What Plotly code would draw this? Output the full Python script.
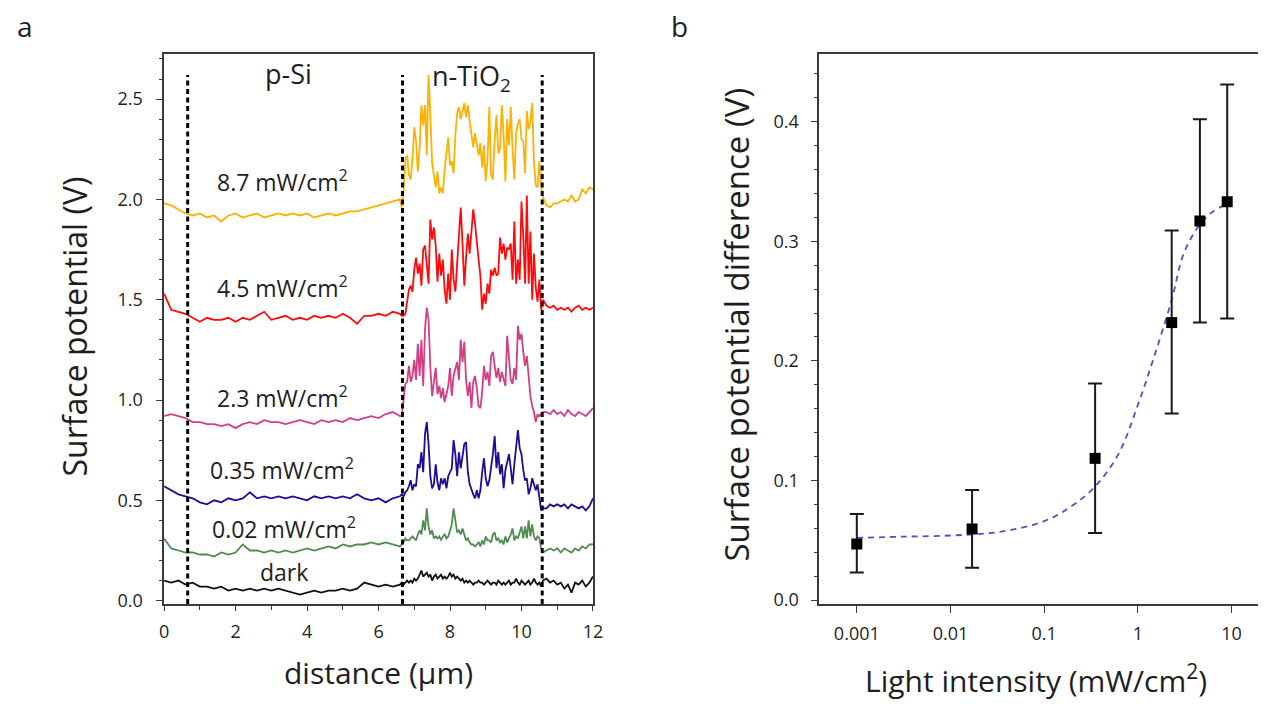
import plotly.graph_objects as go

# ---------------- panel a: surface potential line profiles ----------------
# scan positions along the profile (µm): p-Si side, n-TiO2 stripe, p-Si side
DIST_LEFT = [0.0, 0.2, 0.4, 0.6, 0.8, 1.0, 1.2, 1.4, 1.6, 1.8, 2.0, 2.2, 2.4, 2.6, 2.8, 3.0, 3.2,
             3.4, 3.6, 3.8, 4.0, 4.2, 4.4, 4.6, 4.8, 5.0, 5.2, 5.4, 5.6, 5.8, 6.0, 6.2, 6.4, 6.6]
DIST_MID = [6.65, 6.7, 6.75, 6.8, 6.85, 6.9, 6.95, 7.0, 7.05, 7.1, 7.15, 7.2, 7.25, 7.3, 7.35, 7.4,
            7.45, 7.5, 7.55, 7.6, 7.65, 7.7, 7.75, 7.8, 7.85, 7.9, 7.95, 8.0, 8.05, 8.1, 8.15, 8.2,
            8.25, 8.3, 8.35, 8.4, 8.45, 8.5, 8.55, 8.6, 8.65, 8.7, 8.75, 8.8, 8.85, 8.9, 8.95, 9.0,
            9.05, 9.1, 9.15, 9.2, 9.25, 9.3, 9.35, 9.4, 9.45, 9.5, 9.55, 9.6, 9.65, 9.7, 9.75, 9.8,
            9.85, 9.9, 9.95, 10.0, 10.05, 10.1, 10.15, 10.2, 10.25, 10.3, 10.35, 10.4, 10.45, 10.5,
            10.55, 10.6]
DIST_RIGHT = [10.7, 10.8, 10.9, 11.0, 11.1, 11.2, 11.3, 11.4, 11.5, 11.6, 11.7, 11.8, 11.9, 12.0]
DISTANCE = DIST_LEFT + DIST_MID + DIST_RIGHT

# surface potential (V) for each illumination level
SP_8_7 = [
    1.98, 1.97, 1.95, 1.93, 1.92, 1.93, 1.91, 1.92, 1.89, 1.92, 1.93, 1.91, 1.92, 1.93, 1.91, 1.92, 1.93,
    1.92, 1.93, 1.92, 1.93, 1.91, 1.92, 1.93, 1.92, 1.93, 1.94, 1.94, 1.95, 1.96, 1.97, 1.98, 1.99, 2.00,
    1.96,
    2.04, 2.20, 2.22, 2.12, 2.10, 2.20, 2.36, 2.29, 2.14, 2.26,
    2.47, 2.37, 2.47, 2.22, 2.62, 2.42, 2.18, 2.12, 2.06, 2.14,
    2.03, 2.06, 2.03, 2.15, 2.24, 2.31, 2.17, 2.19, 2.13, 2.32,
    2.43, 2.46, 2.40, 2.45, 2.48, 2.41, 2.47, 2.39, 2.33, 2.26,
    2.33, 2.27, 2.22, 2.28, 2.16, 2.27, 2.09, 2.20, 2.46, 2.12,
    2.10, 2.30, 2.42, 2.23, 2.25, 2.47, 2.32, 2.09, 2.40, 2.27,
    2.46, 2.25, 2.10, 2.33, 2.38, 2.40, 2.30, 2.29, 2.13, 2.44,
    2.35, 2.39, 2.48, 2.18, 2.07, 2.06, 2.19, 2.07, 2.01,
    1.97, 1.96, 1.98, 1.98, 1.99, 2.00, 1.99, 2.02, 1.99, 2.00, 2.05, 2.03, 2.06, 2.05]

SP_4_5 = [
    1.53, 1.45, 1.44, 1.43, 1.41, 1.39, 1.41, 1.40, 1.40, 1.41, 1.39, 1.41, 1.40, 1.42, 1.44, 1.40, 1.41,
    1.42, 1.40, 1.41, 1.40, 1.42, 1.41, 1.42, 1.41, 1.43, 1.41, 1.38, 1.42, 1.42, 1.43, 1.42, 1.44, 1.43,
    1.42,
    1.42, 1.43, 1.50, 1.55, 1.57, 1.54, 1.65, 1.71, 1.63, 1.68,
    1.57, 1.75, 1.77, 1.68, 1.58, 1.90, 1.80, 1.86, 1.77, 1.59,
    1.73, 1.62, 1.70, 1.55, 1.48, 1.63, 1.50, 1.75, 1.60, 1.54,
    1.69, 1.79, 1.96, 1.78, 1.57, 1.71, 1.83, 1.73, 1.85, 1.95,
    1.88, 1.77, 1.70, 1.62, 1.45, 1.53, 1.48, 1.58, 1.53, 1.65,
    1.62, 1.66, 1.62, 1.63, 1.81, 1.73, 1.78, 1.70, 1.76, 1.75,
    1.78, 1.60, 1.89, 1.58, 1.70, 1.60, 1.99, 1.82, 1.58, 2.02,
    1.58, 1.84, 1.50, 1.73, 1.56, 1.49, 1.60, 1.45, 1.50,
    1.47, 1.46, 1.47, 1.45, 1.46, 1.45, 1.46, 1.44, 1.46, 1.47, 1.45, 1.46, 1.45, 1.46]

SP_2_3 = [
    0.92, 0.93, 0.92, 0.91, 0.89, 0.89, 0.88, 0.88, 0.87, 0.88, 0.86, 0.88, 0.89, 0.88, 0.90, 0.89, 0.89,
    0.88, 0.89, 0.90, 0.89, 0.88, 0.90, 0.89, 0.90, 0.89, 0.91, 0.90, 0.91, 0.92, 0.91, 0.93, 0.94, 0.92,
    0.92,
    1.02, 1.08, 1.09, 1.17, 1.09, 1.12, 1.20, 1.10, 1.28, 1.12,
    1.30, 1.07, 1.35, 1.46, 1.40, 1.16, 1.02, 1.08, 1.16, 1.03,
    1.07, 1.01, 1.06, 0.99, 1.04, 1.07, 1.16, 1.02, 1.12, 1.15,
    1.19, 1.10, 1.30, 1.19, 1.29, 1.10, 1.02, 1.09, 0.96, 1.09,
    1.12, 1.06, 0.97, 0.96, 1.04, 1.17, 1.10, 1.14, 1.07, 1.22,
    1.24, 1.17, 1.11, 1.16, 1.09, 1.14, 1.10, 1.07, 1.32, 1.20,
    1.10, 1.08, 1.16, 1.10, 1.37, 1.30, 1.33, 1.24, 1.17, 1.22,
    1.13, 1.02, 0.97, 0.94, 0.89, 0.93, 0.92, 0.93, 0.94,
    0.94, 0.93, 0.95, 0.93, 0.94, 0.92, 0.95, 0.93, 0.92, 0.94, 0.93, 0.92, 0.94, 0.96]

SP_0_35 = [
    0.57, 0.55, 0.53, 0.52, 0.51, 0.49, 0.48, 0.50, 0.49, 0.51, 0.50, 0.51, 0.54, 0.51, 0.52, 0.51, 0.52,
    0.51, 0.52, 0.51, 0.50, 0.52, 0.51, 0.52, 0.51, 0.52, 0.51, 0.53, 0.51, 0.50, 0.51, 0.49, 0.51, 0.52,
    0.53,
    0.52, 0.54, 0.55, 0.57, 0.60, 0.55, 0.58, 0.57, 0.68, 0.66,
    0.74, 0.64, 0.83, 0.89, 0.78, 0.62, 0.56, 0.58, 0.68, 0.59,
    0.55, 0.61, 0.58, 0.61, 0.56, 0.62, 0.64, 0.66, 0.80, 0.73,
    0.62, 0.74, 0.66, 0.71, 0.78, 0.79, 0.64, 0.58, 0.55, 0.53,
    0.51, 0.55, 0.51, 0.55, 0.64, 0.71, 0.61, 0.57, 0.60, 0.66,
    0.73, 0.82, 0.66, 0.74, 0.63, 0.68, 0.56, 0.65, 0.69, 0.73,
    0.66, 0.58, 0.68, 0.77, 0.85, 0.76, 0.73, 0.65, 0.60, 0.61,
    0.53, 0.56, 0.61, 0.58, 0.55, 0.58, 0.51, 0.45, 0.46,
    0.46, 0.48, 0.47, 0.48, 0.47, 0.48, 0.46, 0.48, 0.47, 0.46, 0.47, 0.45, 0.47, 0.51]

SP_0_02 = [
    0.31, 0.26, 0.25, 0.24, 0.24, 0.23, 0.23, 0.22, 0.24, 0.23, 0.24, 0.28, 0.25, 0.25, 0.24, 0.25, 0.24,
    0.25, 0.24, 0.25, 0.26, 0.25, 0.26, 0.27, 0.26, 0.28, 0.27, 0.28, 0.28, 0.29, 0.28, 0.29, 0.28, 0.27,
    0.28,
    0.29, 0.31, 0.30, 0.30, 0.31, 0.32, 0.31, 0.30, 0.33, 0.35,
    0.33, 0.40, 0.35, 0.46, 0.37, 0.33, 0.35, 0.31, 0.32, 0.31,
    0.32, 0.30, 0.32, 0.33, 0.31, 0.32, 0.35, 0.38, 0.46, 0.40,
    0.34, 0.35, 0.33, 0.36, 0.33, 0.30, 0.31, 0.29, 0.28, 0.28,
    0.27, 0.28, 0.29, 0.27, 0.30, 0.28, 0.32, 0.30, 0.30, 0.29,
    0.33, 0.34, 0.30, 0.31, 0.29, 0.30, 0.28, 0.32, 0.29, 0.31,
    0.33, 0.36, 0.30, 0.32, 0.31, 0.34, 0.37, 0.31, 0.37, 0.31,
    0.40, 0.32, 0.38, 0.32, 0.30, 0.32, 0.31, 0.26, 0.24,
    0.25, 0.26, 0.25, 0.26, 0.24, 0.26, 0.25, 0.24, 0.26, 0.25, 0.27, 0.26, 0.28, 0.28]

SP_DARK = [
    0.10, 0.09, 0.10, 0.08, 0.09, 0.07, 0.07, 0.06, 0.07, 0.05, 0.06, 0.05, 0.06, 0.05, 0.06, 0.05, 0.06,
    0.05, 0.04, 0.03, 0.04, 0.05, 0.04, 0.05, 0.05, 0.06, 0.05, 0.06, 0.09, 0.08, 0.07, 0.08, 0.07, 0.08,
    0.09,
    0.08, 0.09, 0.10, 0.09, 0.10, 0.09, 0.11, 0.10, 0.11, 0.13,
    0.15, 0.12, 0.13, 0.14, 0.12, 0.13, 0.10, 0.12, 0.13, 0.11,
    0.12, 0.13, 0.11, 0.12, 0.11, 0.12, 0.14, 0.12, 0.13, 0.11,
    0.12, 0.11, 0.10, 0.11, 0.09, 0.10, 0.09, 0.10, 0.09, 0.08,
    0.09, 0.09, 0.10, 0.09, 0.09, 0.08, 0.09, 0.10, 0.09, 0.08,
    0.09, 0.09, 0.08, 0.10, 0.09, 0.08, 0.09, 0.08, 0.09, 0.10,
    0.08, 0.09, 0.09, 0.11, 0.09, 0.08, 0.10, 0.09, 0.08, 0.09,
    0.10, 0.08, 0.09, 0.11, 0.09, 0.08, 0.09, 0.07, 0.10,
    0.11, 0.09, 0.10, 0.08, 0.09, 0.06, 0.08, 0.04, 0.09, 0.08, 0.10, 0.07, 0.09, 0.12]

PROFILE_LABELS = ["8.7 mW/cm<sup>2</sup>", "4.5 mW/cm<sup>2</sup>", "2.3 mW/cm<sup>2</sup>",
                  "0.35 mW/cm<sup>2</sup>", "0.02 mW/cm<sup>2</sup>", "dark"]
PROFILES = [SP_8_7, SP_4_5, SP_2_3, SP_0_35, SP_0_02, SP_DARK]
PROFILE_COLORS = ["#FFB000", "#FF0A0A", "#D23F84", "#1C0C9A", "#4F8C52", "#111111"]
# where each label sits (distance µm, potential V)
LABEL_POS = [(3.30, 2.09), (3.30, 1.565), (3.30, 1.015), (3.30, 0.655), (3.35, 0.36), (3.35, 0.145)]

INTERFACES = [0.66, 6.67, 10.58]  # p-Si / n-TiO2 boundaries (µm)

for prof in PROFILES:
    assert len(prof) == len(DISTANCE), len(prof)

# ---------------- panel b: potential difference vs light intensity ----------------
INTENSITY = [0.001, 0.017, 0.35, 2.3, 4.6, 9.0]
SPD = [0.047, 0.0595, 0.1185, 0.232, 0.317, 0.333]
SPD_UPPER = [0.072, 0.092, 0.181, 0.309, 0.402, 0.431]
SPD_LOWER = [0.023, 0.027, 0.056, 0.156, 0.232, 0.2355]

FIT_X = [0.001, 0.003, 0.01, 0.033, 0.1, 0.2, 0.35, 0.62, 1.0, 1.5, 2.3, 3.1, 4.6, 6.4, 9.0]
FIT_Y = [0.052, 0.053, 0.054, 0.057, 0.066, 0.079, 0.095, 0.122, 0.163, 0.204, 0.251, 0.290,
         0.314, 0.325, 0.331]

FONT = "Open Sans, Noto Sans, DejaVu Sans, sans-serif"
AXIS_COLOR = "#3a3a3a"
TEXT_COLOR = "#1e1e1e"

fig = go.Figure()

for prof, col in zip(PROFILES, PROFILE_COLORS):
    fig.add_trace(go.Scatter(x=DISTANCE, y=prof, mode="lines",
                             line=dict(color=col, width=1.8), xaxis="x", yaxis="y",
                             hoverinfo="skip"))

fig.add_trace(go.Scatter(x=FIT_X, y=FIT_Y, mode="lines",
                         line=dict(color="#5a4cc8", width=1.8, dash="6px,5px", shape="spline"),
                         xaxis="x2", yaxis="y2", hoverinfo="skip"))

fig.add_trace(go.Scatter(
    x=INTENSITY, y=SPD, mode="markers",
    marker=dict(symbol="square", size=11, color="#000000"),
    error_y=dict(type="data", symmetric=False,
                 array=[u - v for u, v in zip(SPD_UPPER, SPD)],
                 arrayminus=[v - l for v, l in zip(SPD, SPD_LOWER)],
                 color="#1a1a1a", thickness=2, width=7),
    xaxis="x2", yaxis="y2"))

shapes = []
for xb in INTERFACES:
    shapes.append(dict(type="line", xref="x", yref="y", x0=xb, x1=xb, y0=-0.017, y1=2.62,
                       line=dict(color="#000000", width=3, dash="5px,3.5px"), layer="above"))


def label(x, y, text, size, xref="paper", yref="paper", angle=0):
    return dict(x=x, y=y, xref=xref, yref=yref, text=text, showarrow=False, textangle=angle,
                xanchor="center", yanchor="middle",
                font=dict(size=size, color=TEXT_COLOR, family=FONT))


annotations = [label(lx, ly, txt, 23, "x", "y") for (lx, ly), txt in zip(LABEL_POS, PROFILE_LABELS)]
annotations += [
    label(3.48, 2.63, "p-Si", 27, "x", "y"),
    label(8.6, 2.61, "n-TiO<sub>2</sub>", 27, "x", "y"),
    label(20 / 1268, 1 - 26 / 704, "a", 28),
    label(683 / 1268, 1 - 26 / 704, "b", 28),
    label(70 / 1268, 1 - 330 / 704, "Surface potential (V)", 32, angle=-90),
    label(378 / 1268, 1 - 680 / 704, "distance (\u00b5m)", 30),
    label(740 / 1268, 1 - 328 / 704, "Surface potential difference (V)", 33, angle=-90),
    label(1043 / 1268, 1 - 687 / 704, "Light intensity (mW/cm<sup>2</sup>)", 30),
]

y_dom = [(704 - 611) / 704, (704 - 55) / 704]
tickfont = dict(size=18, color=TEXT_COLOR, family=FONT)

fig.update_layout(
    width=1268, height=704,
    margin=dict(l=0, r=0, t=0, b=0),
    paper_bgcolor="white", plot_bgcolor="white",
    showlegend=False,
    font=dict(family=FONT, color=TEXT_COLOR),
    shapes=shapes, annotations=annotations,
    xaxis=dict(domain=[161 / 1268, 595 / 1268], range=[0, 12], anchor="y",
               tickvals=[0, 2, 4, 6, 8, 10, 12], ticks="outside", ticklen=5, tickwidth=1.3,
               tickcolor=AXIS_COLOR, showline=True, linecolor=AXIS_COLOR, linewidth=1.5,
               mirror=True, showgrid=False, zeroline=False, tickfont=tickfont,
               ticklabelstandoff=6,
               minor=dict(tick0=0, dtick=1, ticks="outside", ticklen=4, tickwidth=1.2,
                          tickcolor=AXIS_COLOR, showgrid=False)),
    yaxis=dict(domain=y_dom, range=[-0.017, 2.723], anchor="x",
               tick0=0, dtick=0.5, tickformat=".1f", ticks="outside", ticklen=6, tickwidth=1.3,
               tickcolor=AXIS_COLOR, showline=True, linecolor=AXIS_COLOR, linewidth=1.5,
               mirror=True, showgrid=False, zeroline=False, tickfont=tickfont,
               ticklabelstandoff=10,
               minor=dict(tick0=0, dtick=0.1, ticks="outside", ticklen=3, tickwidth=1.2,
                          tickcolor=AXIS_COLOR, showgrid=False)),
    xaxis2=dict(domain=[824 / 1268, 1.0], type="log", range=[-3.401, 1.283], anchor="y2",
                tickvals=[0.001, 0.01, 0.1, 1, 10], ticktext=["0.001", "0.01", "0.1", "1", "10"],
                ticks="outside", ticklen=7, tickwidth=1.3, tickcolor=AXIS_COLOR,
                showline=True, linecolor=AXIS_COLOR, linewidth=1.5, mirror=True,
                showgrid=False, zeroline=False, tickfont=tickfont, ticklabelstandoff=6),
    yaxis2=dict(domain=y_dom, range=[-0.0033, 0.4562], anchor="x2",
                tick0=0, dtick=0.1, tickformat=".1f", ticks="outside", ticklen=7, tickwidth=1.3,
                tickcolor=AXIS_COLOR, showline=True, linecolor=AXIS_COLOR, linewidth=1.5,
                mirror=False, showgrid=False, zeroline=False, tickfont=tickfont,
                ticklabelstandoff=8,
                minor=dict(tick0=0, dtick=0.02, ticks="outside", ticklen=4, tickwidth=1.2,
                           tickcolor=AXIS_COLOR, showgrid=False)),
)

fig.write_html("out.html")
